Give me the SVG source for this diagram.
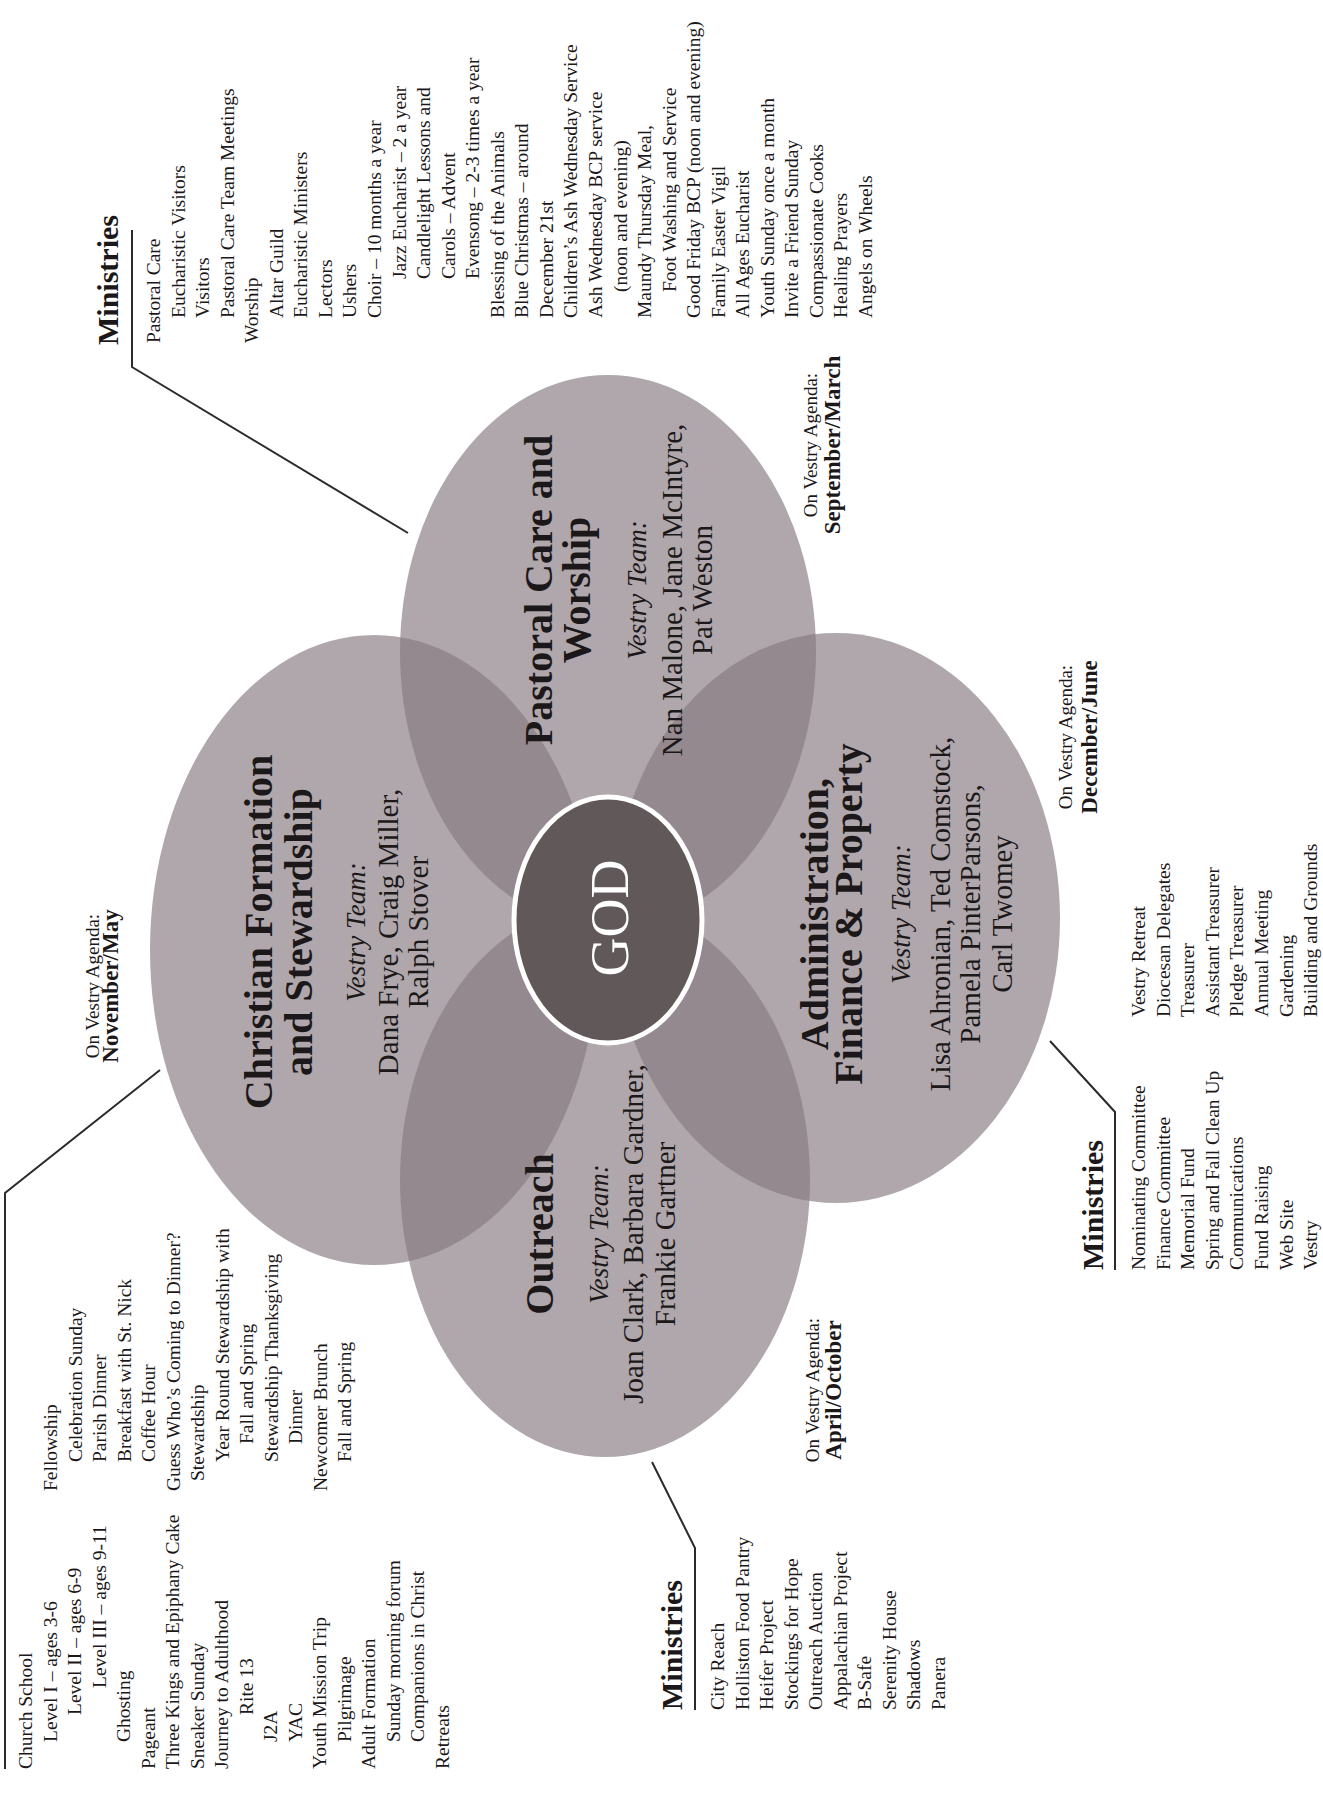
<svg xmlns="http://www.w3.org/2000/svg" width="1323" height="1817" viewBox="0 0 1323 1817">
<style>
text{font-family:"Liberation Serif","Times New Roman",serif;fill:#1c1819}
.li{font-size:19.5px}
.hd{font-size:30px;font-weight:700}
.ag{font-size:19px;text-anchor:middle}
.mo{font-size:23px;font-weight:700;text-anchor:middle}
.ti{font-size:40px;font-weight:700;text-anchor:middle}
.vt{font-size:27px;font-style:italic;text-anchor:middle}
.nm{font-size:29px;text-anchor:middle}
.petal{fill:#86797f;fill-opacity:.66}
.lead{fill:none;stroke:#2e2a2b;stroke-width:2}
.god{fill:#605859;stroke:#fff;stroke-width:5}
.gt{font-size:54px;fill:#fff;text-anchor:middle}
</style>
<rect width="1323" height="1817" fill="#fff"/>

<g id="petals">
  <ellipse id="shape-formation" class="petal" cx="374" cy="950" rx="224" ry="315"/>
  <ellipse id="shape-pastoral" class="petal" cx="608" cy="652" rx="208" ry="277"/>
  <ellipse id="shape-admin" class="petal" cx="836" cy="918" rx="224" ry="285"/>
  <ellipse id="shape-outreach" class="petal" cx="605" cy="1180" rx="205" ry="277"/>
</g>

<g id="node-god">
  <ellipse class="god" cx="608" cy="920" rx="94" ry="123"/>
  <text class="gt" transform="translate(628,918) rotate(-90)">GOD</text>
</g>

<g id="node-formation" transform="translate(272,932) rotate(-90)">
  <text class="ti">Christian Formation</text>
  <text class="ti" y="40">and Stewardship</text>
  <text class="vt" y="93">Vestry Team:</text>
  <text class="nm" y="126">Dana Frye, Craig Miller,</text>
  <text class="nm" y="156">Ralph Stover</text>
</g>

<g id="node-pastoral" transform="translate(552,590) rotate(-90)">
  <text class="ti">Pastoral Care and</text>
  <text class="ti" y="38">Worship</text>
  <text class="vt" y="94">Vestry Team:</text>
  <text class="nm" y="130">Nan Malone, Jane McIntyre,</text>
  <text class="nm" y="160">Pat Weston</text>
</g>

<g id="node-admin" transform="translate(828,914) rotate(-90)">
  <text class="ti">Administration,</text>
  <text class="ti" y="34">Finance &amp; Property</text>
  <text class="vt" y="82">Vestry Team:</text>
  <text class="nm" y="122">Lisa Ahronian, Ted Comstock,</text>
  <text class="nm" y="152">Pamela PinterParsons,</text>
  <text class="nm" y="184">Carl Twomey</text>
</g>

<g id="node-outreach" transform="translate(553,1234) rotate(-90)">
  <text class="ti">Outreach</text>
  <text class="vt" y="55">Vestry Team:</text>
  <text class="nm" y="90">Joan Clark, Barbara Gardner,</text>
  <text class="nm" y="122">Frankie Gartner</text>
</g>

<g id="agenda-formation" transform="translate(99,986) rotate(-90)">
  <text class="ag">On Vestry Agenda:</text>
  <text class="mo" y="19">November/May</text>
</g>
<g id="agenda-pastoral" transform="translate(817,445) rotate(-90)">
  <text class="ag">On Vestry Agenda:</text>
  <text class="mo" y="23">September/March</text>
</g>
<g id="agenda-admin" transform="translate(1072,737) rotate(-90)">
  <text class="ag">On Vestry Agenda:</text>
  <text class="mo" y="25">December/June</text>
</g>
<g id="agenda-outreach" transform="translate(819,1390) rotate(-90)">
  <text class="ag">On Vestry Agenda:</text>
  <text class="mo" y="22">April/October</text>
</g>

<g id="connectors">
  <polyline class="lead" points="5,1769 5,1193 160,1070"/>
  <polyline class="lead" points="132,230 132,367 408,533"/>
  <polyline class="lead" points="1050,1041 1115,1112 1115,1270"/>
  <polyline class="lead" points="652,1462 695,1548 695,1710"/>
</g>

<g id="ministries-formation">
  <g class="li" transform="translate(32,1769) rotate(-90)">
    <text>Church School</text>
    <text x="27" y="24.5">Level I – ages 3-6</text>
    <text x="54" y="49">Level II – ages 6-9</text>
    <text x="81" y="73.5">Level III – ages 9-11</text>
    <text x="27" y="98">Ghosting</text>
    <text y="122.5">Pageant</text>
    <text y="147">Three Kings and Epiphany Cake</text>
    <text y="171.5">Sneaker Sunday</text>
    <text y="196">Journey to Adulthood</text>
    <text x="54" y="220.5">Rite 13</text>
    <text x="27" y="245">J2A</text>
    <text x="27" y="269.5">YAC</text>
    <text y="294">Youth Mission Trip</text>
    <text x="27" y="318.5">Pilgrimage</text>
    <text y="343">Adult Formation</text>
    <text x="27" y="367.5">Sunday morning forum</text>
    <text x="27" y="392">Companions in Christ</text>
    <text y="416.5">Retreats</text>
  </g>
  <g class="li" transform="translate(57,1491) rotate(-90)">
    <text>Fellowship</text>
    <text x="29" y="24.5">Celebration Sunday</text>
    <text x="29" y="49">Parish Dinner</text>
    <text x="29" y="73.5">Breakfast with St. Nick</text>
    <text x="29" y="98">Coffee Hour</text>
    <text y="122.5">Guess Who’s Coming to Dinner?</text>
    <text x="10" y="147">Stewardship</text>
    <text x="29" y="171.5">Year Round Stewardship with</text>
    <text x="47" y="196">Fall and Spring</text>
    <text x="29" y="220.5">Stewardship Thanksgiving</text>
    <text x="47" y="245">Dinner</text>
    <text y="269.5">Newcomer Brunch</text>
    <text x="29" y="294">Fall and Spring</text>
  </g>
</g>

<g id="ministries-pastoral">
  <text class="hd" transform="translate(118,345) rotate(-90)">Ministries</text>
  <g class="li" transform="translate(160,343) rotate(-90)">
    <text>Pastoral Care</text>
    <text x="25" y="24.6">Eucharistic Visitors</text>
    <text x="25" y="49.1">Visitors</text>
    <text x="25" y="73.7">Pastoral Care Team Meetings</text>
    <text y="98.2">Worship</text>
    <text x="25" y="122.8">Altar Guild</text>
    <text x="25" y="147.3">Eucharistic Ministers</text>
    <text x="25" y="171.9">Lectors</text>
    <text x="25" y="196.4">Ushers</text>
    <text x="25" y="221">Choir – 10 months a year</text>
    <text x="64" y="245.5">Jazz Eucharist – 2 a year</text>
    <text x="64" y="270.1">Candlelight Lessons and</text>
    <text x="64" y="294.6">Carols – Advent</text>
    <text x="64" y="319.2">Evensong – 2-3 times a year</text>
    <text x="25" y="343.7">Blessing of the Animals</text>
    <text x="25" y="368.3">Blue Christmas – around</text>
    <text x="25" y="392.8">December 21st</text>
    <text x="25" y="417.4">Children’s Ash Wednesday Service</text>
    <text x="25" y="441.9">Ash Wednesday BCP service</text>
    <text x="51" y="466.5">(noon and evening)</text>
    <text x="25" y="491">Maundy Thursday Meal,</text>
    <text x="51" y="515.6">Foot Washing and Service</text>
    <text x="25" y="540.1">Good Friday BCP (noon and evening)</text>
    <text x="25" y="564.7">Family Easter Vigil</text>
    <text x="25" y="589.2">All Ages Eucharist</text>
    <text x="25" y="613.8">Youth Sunday once a month</text>
    <text x="25" y="638.3">Invite a Friend Sunday</text>
    <text x="25" y="662.9">Compassionate Cooks</text>
    <text x="25" y="687.4">Healing Prayers</text>
    <text x="25" y="712">Angels on Wheels</text>
  </g>
</g>

<g id="ministries-outreach">
  <text class="hd" transform="translate(682,1710) rotate(-90)">Ministries</text>
  <g class="li" transform="translate(724,1710) rotate(-90)">
    <text>City Reach</text>
    <text y="24.5">Holliston Food Pantry</text>
    <text y="49">Heifer Project</text>
    <text y="73.5">Stockings for Hope</text>
    <text y="98">Outreach Auction</text>
    <text y="122.5">Appalachian Project</text>
    <text y="147">B-Safe</text>
    <text y="171.5">Serenity House</text>
    <text y="196">Shadows</text>
    <text y="220.5">Panera</text>
  </g>
</g>

<g id="ministries-admin">
  <text class="hd" transform="translate(1103,1270) rotate(-90)">Ministries</text>
  <g class="li" transform="translate(1145,1270) rotate(-90)">
    <text>Nominating Committee</text>
    <text y="24.6">Finance Committee</text>
    <text y="49.2">Memorial Fund</text>
    <text y="73.8">Spring and Fall Clean Up</text>
    <text y="98.4">Communications</text>
    <text y="123">Fund Raising</text>
    <text y="147.6">Web Site</text>
    <text y="172.2">Vestry</text>
  </g>
  <g class="li" transform="translate(1145,1017) rotate(-90)">
    <text>Vestry Retreat</text>
    <text y="24.6">Diocesan Delegates</text>
    <text y="49.2">Treasurer</text>
    <text y="73.8">Assistant Treasurer</text>
    <text y="98.4">Pledge Treasurer</text>
    <text y="123">Annual Meeting</text>
    <text y="147.6">Gardening</text>
    <text y="172.2">Building and Grounds</text>
  </g>
</g>
</svg>
